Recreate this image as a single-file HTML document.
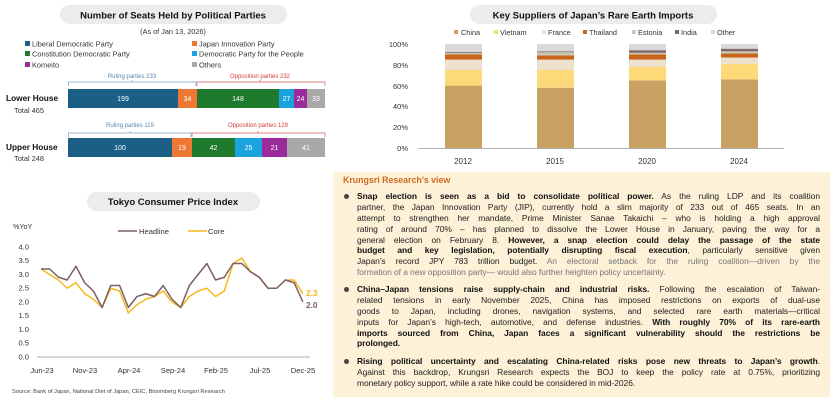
<!DOCTYPE html>
<html><head><meta charset="utf-8"><style>
body{margin:0;width:840px;height:407px;background:#fff;overflow:hidden;position:relative;font-family:"Liberation Sans",sans-serif}
svg{position:absolute;left:0;top:0}
#box{position:absolute;left:333px;top:172px;width:497px;height:225px;background:#fdf1d8}
#box .h{position:absolute;left:10px;top:3px;font-size:8.8px;font-weight:bold;color:#d2691e}
.p{position:absolute;left:24px;width:463px;font-size:8.45px;color:#222;letter-spacing:-0.05px}
.p div{height:10.9px;line-height:10.9px;white-space:nowrap;text-align:justify;text-align-last:justify}
.p div.l{text-align-last:left}
.p b{color:#111}
.g{color:#777}
.dot{position:absolute;left:11px;width:5px;height:5px;border-radius:50%;background:#444}
</style></head><body>
<svg width="840" height="407" font-family="Liberation Sans, sans-serif">
<rect x="60" y="5" width="227" height="19" rx="9.5" fill="#ececec"/>
<text x="173" y="18.5" font-size="9.5" font-weight="bold" text-anchor="middle" fill="#111">Number of Seats Held by Political Parties</text>
<text x="173" y="34" font-size="7.3" text-anchor="middle" fill="#333">(As of Jan 13, 2026)</text>
<g font-size="7.4" fill="#333">
<rect x="25" y="41" width="5" height="5" fill="#1b5f86"/><text x="32" y="46.5">Liberal Democratic Party</text>
<rect x="25" y="51" width="5" height="5" fill="#1f7a2e"/><text x="32" y="56.5">Constitution Democratic Party</text>
<rect x="25" y="62" width="5" height="5" fill="#9b2a9b"/><text x="32" y="67.5">Komeito</text>
<rect x="192" y="41" width="5" height="5" fill="#ee7733"/><text x="199" y="46.5">Japan Innovation Party</text>
<rect x="192" y="51" width="5" height="5" fill="#1ba3dd"/><text x="199" y="56.5">Democratic Party for the People</text>
<rect x="192" y="62" width="5" height="5" fill="#a9a9a9"/><text x="199" y="67.5">Others</text>
</g>
<g font-size="6">
<text x="132" y="78" text-anchor="middle" fill="#5b86a8">Ruling parties 233</text>
<text x="260" y="78" text-anchor="middle" fill="#d23c3c">Opposition parties 232</text>
<path d="M68.5 86V82H196V86M132 82V80" stroke="#7fa3c0" stroke-width="0.7" fill="none"/>
<path d="M197 86V82H325V86M260 82V80" stroke="#d85a5a" stroke-width="0.7" fill="none"/>
<text x="130" y="127" text-anchor="middle" fill="#5b86a8">Ruling parties 119</text>
<text x="258" y="127" text-anchor="middle" fill="#d23c3c">Opposition parties 129</text>
<path d="M68.5 137V133H191V137M130 133V131" stroke="#7fa3c0" stroke-width="0.7" fill="none"/>
<path d="M192 137V133H325V137M258 133V131" stroke="#d85a5a" stroke-width="0.7" fill="none"/>
</g>
<g>
<rect x="68" y="89" width="110" height="19" fill="#1b5f86"/>
<rect x="178" y="89" width="19" height="19" fill="#ee7733"/>
<rect x="197" y="89" width="82" height="19" fill="#1f7a2e"/>
<rect x="279" y="89" width="15" height="19" fill="#1ba3dd"/>
<rect x="294" y="89" width="13" height="19" fill="#9b2a9b"/>
<rect x="307" y="89" width="18" height="19" fill="#a9a9a9"/>
<rect x="68" y="138" width="104" height="19" fill="#1b5f86"/>
<rect x="172" y="138" width="20" height="19" fill="#ee7733"/>
<rect x="192" y="138" width="43" height="19" fill="#1f7a2e"/>
<rect x="235" y="138" width="27" height="19" fill="#1ba3dd"/>
<rect x="262" y="138" width="25" height="19" fill="#9b2a9b"/>
<rect x="287" y="138" width="38" height="19" fill="#a9a9a9"/>
</g>
<g font-size="7" fill="#fff" text-anchor="middle">
<text x="123" y="101">199</text><text x="187.5" y="101">34</text><text x="238" y="101">148</text><text x="286.5" y="101">27</text><text x="300.5" y="101">24</text><text x="316" y="101">33</text>
<text x="120" y="150">100</text><text x="182" y="150">19</text><text x="213.5" y="150">42</text><text x="248.5" y="150">25</text><text x="274.5" y="150">21</text><text x="306" y="150">41</text>
</g>
<text x="6" y="101" font-size="8.3" font-weight="bold" fill="#111">Lower House</text>
<text x="14" y="113" font-size="7.4" fill="#333">Total 465</text>
<text x="6" y="150" font-size="8.3" font-weight="bold" fill="#111">Upper House</text>
<text x="14" y="161" font-size="7.4" fill="#333">Total 248</text>

<rect x="470" y="5" width="247" height="19" rx="9.5" fill="#ececec"/>
<text x="593" y="18.5" font-size="9.5" font-weight="bold" text-anchor="middle" fill="#111">Key Suppliers of Japan’s Rare Earth Imports</text>
<g font-size="7.3" fill="#333">
<rect x="454" y="30" width="4" height="4" fill="#c9a263"/><text x="461" y="35">China</text>
<rect x="494" y="30" width="4" height="4" fill="#fdd97a"/><text x="500" y="35">Vietnam</text>
<rect x="542" y="30" width="4" height="4" fill="#ede0cc"/><text x="548" y="35">France</text>
<rect x="583" y="30" width="4" height="4" fill="#c8651b"/><text x="589" y="35">Thailand</text>
<rect x="632" y="30" width="4" height="4" fill="#c6c9b4"/><text x="638" y="35">Estonia</text>
<rect x="675" y="30" width="4" height="4" fill="#7f6767"/><text x="681" y="35">India</text>
<rect x="711" y="30" width="4" height="4" fill="#d9d9d9"/><text x="717" y="35">Other</text>
</g>
<g font-size="7.5" fill="#333" text-anchor="end">
<text x="408" y="47">100%</text><text x="408" y="68">80%</text><text x="408" y="89">60%</text><text x="408" y="109">40%</text><text x="408" y="130">20%</text><text x="408" y="151">0%</text>
</g>
<g>
<rect x="445" y="85.6" width="37" height="62.4" fill="#c9a263"/>
<rect x="445" y="70" width="37" height="15.6" fill="#fdd97a"/>
<rect x="445" y="59.6" width="37" height="10.4" fill="#ede0cc"/>
<rect x="445" y="54.4" width="37" height="5.2" fill="#c8651b"/>
<rect x="445" y="52.8" width="37" height="1.6" fill="#c6c9b4"/>
<rect x="445" y="51.8" width="37" height="1" fill="#7f6767"/>
<rect x="445" y="44" width="37" height="7.8" fill="#d9d9d9"/>
<rect x="537" y="87.7" width="37" height="60.3" fill="#c9a263"/>
<rect x="537" y="70" width="37" height="17.7" fill="#fdd97a"/>
<rect x="537" y="59.6" width="37" height="10.4" fill="#ede0cc"/>
<rect x="537" y="55.4" width="37" height="4.2" fill="#c8651b"/>
<rect x="537" y="52.3" width="37" height="3.1" fill="#c6c9b4"/>
<rect x="537" y="51.3" width="37" height="1" fill="#7f6767"/>
<rect x="537" y="44" width="37" height="7.3" fill="#d9d9d9"/>
<rect x="629" y="80.4" width="37" height="67.6" fill="#c9a263"/>
<rect x="629" y="66.9" width="37" height="13.5" fill="#fdd97a"/>
<rect x="629" y="59.6" width="37" height="7.3" fill="#ede0cc"/>
<rect x="629" y="54.4" width="37" height="5.2" fill="#c8651b"/>
<rect x="629" y="52.8" width="37" height="1.6" fill="#c6c9b4"/>
<rect x="629" y="50.2" width="37" height="2.6" fill="#7f6767"/>
<rect x="629" y="44" width="37" height="6.2" fill="#d9d9d9"/>
<rect x="721" y="79.4" width="37" height="68.6" fill="#c9a263"/>
<rect x="721" y="63.8" width="37" height="15.6" fill="#fdd97a"/>
<rect x="721" y="57.5" width="37" height="6.3" fill="#ede0cc"/>
<rect x="721" y="53.4" width="37" height="4.1" fill="#c8651b"/>
<rect x="721" y="51.3" width="37" height="2.1" fill="#c6c9b4"/>
<rect x="721" y="48.7" width="37" height="2.6" fill="#7f6767"/>
<rect x="721" y="44" width="37" height="4.7" fill="#d9d9d9"/>
</g>
<line x1="418" y1="148.5" x2="784" y2="148.5" stroke="#999" stroke-width="0.8"/>
<g font-size="8" fill="#333" text-anchor="middle">
<text x="463" y="164">2012</text><text x="555" y="164">2015</text><text x="647" y="164">2020</text><text x="739" y="164">2024</text>
</g>

<rect x="87" y="192" width="173" height="19" rx="9.5" fill="#ececec"/>
<text x="173" y="205" font-size="9.5" font-weight="bold" text-anchor="middle" fill="#111">Tokyo Consumer Price Index</text>
<text x="13" y="229" font-size="7.2" fill="#333">%YoY</text>
<line x1="118" y1="231" x2="137" y2="231" stroke="#7b5e62" stroke-width="1.6"/>
<text x="139" y="234" font-size="7.6" fill="#333">Headline</text>
<line x1="188" y1="231" x2="207" y2="231" stroke="#f5b91a" stroke-width="1.6"/>
<text x="208" y="234" font-size="7.6" fill="#333">Core</text>
<g font-size="7.6" fill="#333" text-anchor="end">
<text x="29" y="249.5">4.0</text><text x="29" y="263">3.5</text><text x="29" y="277">3.0</text><text x="29" y="290.5">2.5</text><text x="29" y="304.5">2.0</text><text x="29" y="318">1.5</text><text x="29" y="332">1.0</text><text x="29" y="345.5">0.5</text><text x="29" y="359.5">0.0</text>
</g>
<line x1="37" y1="357" x2="310" y2="357" stroke="#999" stroke-width="0.8"/>
<polyline fill="none" stroke="#f5b91a" stroke-width="1.5" stroke-linejoin="round" points="41,269 49.7,274.5 58.5,280 67.2,288.25 75.9,282.75 84.7,293.75 93.4,299.25 102.1,307.5 110.8,288.25 119.6,291 128.3,313 137,304.75 145.8,299.25 154.5,296.5 163.2,291 172,302 180.7,307.5 189.4,296.5 198.1,291 206.9,288.25 215.6,296.5 224.3,291 233.1,263.5 241.8,258 250.5,271.75 259.3,277.25 268,288.25 276.7,288.25 285.4,280 294.2,280 302.9,293.75"/>
<polyline fill="none" stroke="#7b5e62" stroke-width="1.5" stroke-linejoin="round" points="41,269 49.7,269 58.5,277.25 67.2,280 75.9,266.25 84.7,282.75 93.4,291 102.1,307.5 110.8,285.5 119.6,285.5 128.3,307.5 137,296.5 145.8,293.75 154.5,296.5 163.2,285.5 172,299.25 180.7,307.5 189.4,285.5 198.1,274.5 206.9,263.5 215.6,280 224.3,277.25 233.1,263.5 241.8,263.5 250.5,271.75 259.3,277.25 268,288.25 276.7,288.25 285.4,280 294.2,282.75 302.9,302"/>
<text x="306" y="296" font-size="8.3" font-weight="bold" fill="#f5b91a">2.3</text>
<text x="306" y="308" font-size="8.3" font-weight="bold" fill="#7b5e62">2.0</text>
<g font-size="7.6" fill="#333" text-anchor="middle">
<text x="42" y="373">Jun-23</text><text x="85" y="373">Nov-23</text><text x="129" y="373">Apr-24</text><text x="173" y="373">Sep-24</text><text x="216" y="373">Feb-25</text><text x="260" y="373">Jul-25</text><text x="303" y="373">Dec-25</text>
</g>
<text x="12" y="393" font-size="5.7" fill="#444">Source: Bank of Japan, National Diet of Japan, CEIC, Bloomberg Krungsri Research</text>
</svg>

<div id="box">
<div class="h">Krungsri Research’s view</div>
<div class="dot" style="top:22px"></div>
<div class="p" style="top:19px">
<div><b>Snap election is seen as a bid to consolidate political power.</b> As the ruling LDP and its coalition</div>
<div>partner, the Japan Innovation Party (JIP), currently hold a slim majority of 233 out of 465 seats. In an</div>
<div>attempt to strengthen her mandate, Prime Minister Sanae Takaichi – who is holding a high approval</div>
<div>rating of around 70% – has planned to dissolve the Lower House in January, paving the way for a</div>
<div>general election on February 8. <b>However, a snap election could delay the passage of the state</b></div>
<div><b>budget and key legislation, potentially disrupting fiscal execution</b>, particularly sensitive given</div>
<div>Japan’s record JPY 783 trillion budget. <span class="g">An electoral setback for the ruling coalition—driven by the</span></div>
<div class="l g">formation of a new opposition party— would also further heighten policy uncertainty.</div>
</div>
<div class="dot" style="top:115px"></div>
<div class="p" style="top:112px">
<div><b>China–Japan tensions raise supply-chain and industrial risks.</b> Following the escalation of Taiwan-</div>
<div>related tensions in early November 2025, China has imposed restrictions on exports of dual-use</div>
<div>goods to Japan, including drones, navigation systems, and selected rare earth materials—critical</div>
<div>inputs for Japan’s high-tech, automotive, and defense industries. <b>With roughly 70% of its rare-earth</b></div>
<div><b>imports sourced from China, Japan faces a significant vulnerability should the restrictions be</b></div>
<div class="l"><b>prolonged.</b></div>
</div>
<div class="dot" style="top:187px"></div>
<div class="p" style="top:184px">
<div><b>Rising political uncertainty and escalating China-related risks pose new threats to Japan’s growth</b>.</div>
<div>Against this backdrop, Krungsri Research expects the BOJ to keep the policy rate at 0.75%, prioritizing</div>
<div class="l">monetary policy support, while a rate hike could be considered in mid-2026.</div>
</div>
</div>
</body></html>
